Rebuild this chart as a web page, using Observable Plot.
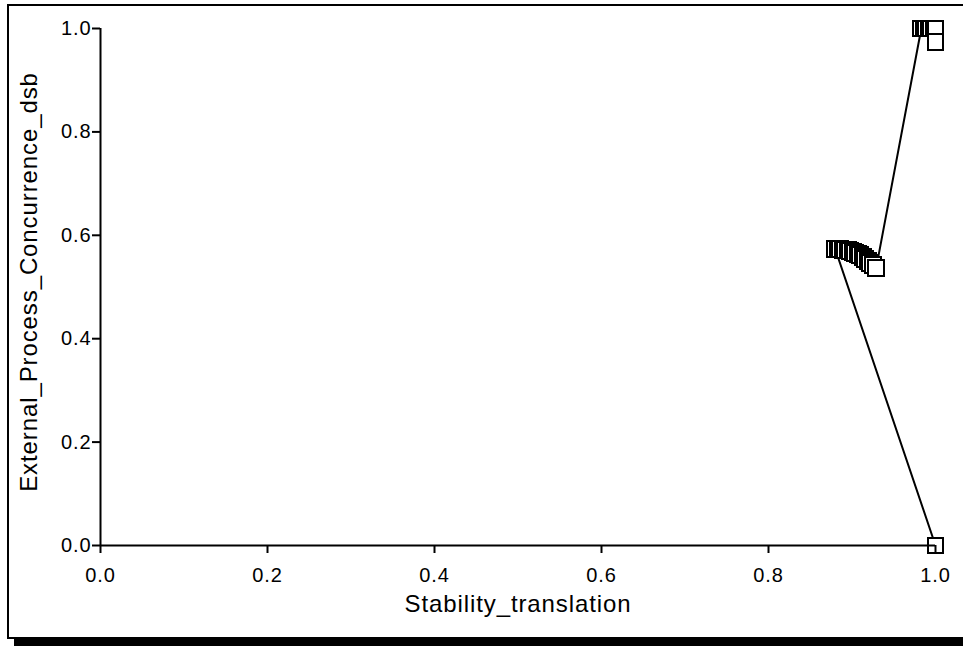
<!DOCTYPE html>
<html>
<head>
<meta charset="utf-8">
<script src="https://cdn.jsdelivr.net/npm/d3@7"></script>
<script src="https://cdn.jsdelivr.net/npm/@observablehq/plot@0.6"></script>
<style>
  body { margin: 0; background: #fff; }
  #wrap { position: relative; width: 963px; height: 646px; overflow: hidden; background: #fff; }
  #chart { position: absolute; left: 0; top: 0; }
  #chart text { letter-spacing: 0.9px; }
  #chart g[aria-label="axis title"] text { letter-spacing: 0.8px; }
  #frame { position: absolute; left: 7px; top: 4px; width: 1000px; height: 631px; border: 2px solid #000; pointer-events: none; }
  #shadow { position: absolute; left: 14px; top: 639px; width: 1000px; height: 10px; background: #000; }
</style>
</head>
<body>
<div id="wrap">
  <div id="chart"></div>
  <div id="frame"></div>
  <div id="shadow"></div>
</div>
<script>
// Series, in drawing order
const stabilityTranslation = [
  1.000,
  0.880, 0.883, 0.886, 0.889, 0.892, 0.895, 0.898, 0.901, 0.904,
  0.907, 0.910, 0.913, 0.916, 0.919, 0.922, 0.925, 0.929,
  0.983, 0.986, 0.989, 0.992, 0.995, 0.998, 1.000,
  1.000
];
const externalProcessConcurrenceDsb = [
  0.000,
  0.573, 0.573, 0.573, 0.572, 0.572, 0.571, 0.570, 0.568, 0.566,
  0.564, 0.561, 0.558, 0.555, 0.551, 0.547, 0.543, 0.537,
  1.000, 1.000, 1.000, 1.000, 1.000, 1.000, 1.000,
  0.973
];
const xTicks = [0.0, 0.2, 0.4, 0.6, 0.8, 1.0];
const yTicks = [0.0, 0.2, 0.4, 0.6, 0.8, 1.0];
const xTitle = "Stability_translation";
const yTitle = "External_Process_Concurrence_dsb";

const data = stabilityTranslation.map((x, i) => ({x, y: externalProcessConcurrenceDsb[i], i}));
const fmt = d3.format(".1f");
const font = "'Liberation Sans', Arial, sans-serif";

const chart = Plot.plot({
  width: 963,
  height: 646,
  marginLeft: 100,
  marginRight: 28,
  marginTop: 28,
  marginBottom: 101,
  style: {fontFamily: font, background: "transparent", color: "#000"},
  x: {domain: [0, 1], axis: null},
  y: {domain: [0, 1], axis: null},
  marks: [
    Plot.line(data, {x: "x", y: "y", stroke: "#000", strokeWidth: 2}),
    Plot.dot(data, {x: "x", y: "y", symbol: "square", r: 9, fill: "#fff", stroke: "#000", strokeWidth: 2, shapeRendering: "crispEdges"}),
    Plot.ruleX([0], {stroke: "#000", strokeWidth: 2}),
    Plot.ruleY([0], {stroke: "#000", strokeWidth: 2}),
    Plot.axisX({ticks: xTicks, tickFormat: fmt, tickSize: 8, tickPadding: 14, strokeWidth: 2, fontSize: 20, label: null, anchor: "bottom"}),
    Plot.axisY({ticks: yTicks, tickFormat: fmt, tickSize: 8, tickPadding: 1, strokeWidth: 2, fontSize: 20, label: null, anchor: "left"}),
    Plot.text([xTitle], {frameAnchor: "bottom", dy: 66, fontSize: 24, fill: "#000", ariaLabel: "axis title"}),
    Plot.text([yTitle], {frameAnchor: "left", textAnchor: "middle", dx: -71, dy: -5, rotate: -90, fontSize: 24, fill: "#000", ariaLabel: "axis title"})
  ]
});
document.getElementById("chart").appendChild(chart);
</script>
</body>
</html>
